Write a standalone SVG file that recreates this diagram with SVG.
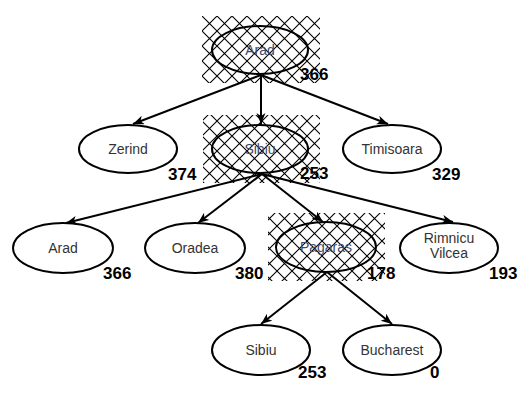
<svg xmlns="http://www.w3.org/2000/svg" width="530" height="401" viewBox="0 0 530 401">
<style>
.node{fill:none;stroke:#000;stroke-width:2}
.lbl{font-family:"Liberation Sans",Arial,sans-serif;font-size:14px;fill:#333;text-anchor:middle}
.lblh{fill:#3d4a6b}
.h{font-family:"Liberation Sans",Arial,sans-serif;font-size:17px;font-weight:bold;fill:#000}
.edge{stroke:#000;stroke-width:2;fill:none;marker-end:url(#arr)}
</style>
<defs>
<pattern id="hatch" patternUnits="userSpaceOnUse" width="15" height="15" x="202" y="16">
<path d="M0,0 L15,15 M15,0 L0,15" stroke="#000" stroke-width="1.1"/>
</pattern>
<marker id="arr" markerUnits="userSpaceOnUse" markerWidth="12" markerHeight="10" refX="11" refY="4.5" orient="auto">
<path d="M0,0 L11,4.5 L0,9 L3,4.5 z" fill="#000"/>
</marker>
</defs>
<g id="connectors">
<line class="edge" x1="261" y1="75" x2="133" y2="124"/>
<line class="edge" x1="261" y1="75" x2="261" y2="124"/>
<line class="edge" x1="261" y1="75" x2="388" y2="124"/>
<line class="edge" x1="262" y1="174" x2="66" y2="223"/>
<line class="edge" x1="262" y1="174" x2="198" y2="223"/>
<line class="edge" x1="262" y1="174" x2="323" y2="222"/>
<line class="edge" x1="262" y1="174" x2="453" y2="222"/>
<line class="edge" x1="327" y1="272" x2="261" y2="324"/>
<line class="edge" x1="327" y1="272" x2="392" y2="324"/>
</g>
<g id="n_arad">
<rect x="202" y="16" width="118" height="67" fill="url(#hatch)"/>
<ellipse class="node" cx="260" cy="50" rx="48" ry="24"/>
<text class="lbl lblh" x="260" y="55">Arad</text>
<text class="h" x="300" y="80">366</text>
</g>
<g id="n_zerind">
<ellipse class="node" cx="128" cy="149" rx="49" ry="24"/>
<text class="lbl" x="128" y="154">Zerind</text>
<text class="h" x="168" y="180">374</text>
</g>
<g id="n_sibiu">
<rect x="203" y="115" width="117" height="68" fill="url(#hatch)"/>
<ellipse class="node" cx="260" cy="149" rx="48" ry="24"/>
<text class="lbl lblh" x="260" y="154">Sibiu</text>
<text class="h" x="300" y="179">253</text>
</g>
<g id="n_timisoara">
<ellipse class="node" cx="392" cy="149" rx="49" ry="24"/>
<text class="lbl" x="392" y="154">Timisoara</text>
<text class="h" x="432" y="180">329</text>
</g>
<g id="n_arad2">
<ellipse class="node" cx="63" cy="248" rx="50" ry="25"/>
<text class="lbl" x="63" y="253">Arad</text>
<text class="h" x="103" y="279">366</text>
</g>
<g id="n_oradea">
<ellipse class="node" cx="195" cy="248" rx="50" ry="25"/>
<text class="lbl" x="195" y="253">Oradea</text>
<text class="h" x="235" y="279">380</text>
</g>
<g id="n_pagaras">
<rect x="268" y="213" width="117" height="68" fill="url(#hatch)"/>
<ellipse class="node" cx="326" cy="247" rx="50" ry="25"/>
<text class="lbl lblh" x="326" y="252">Pagaras</text>
<text class="h" x="367" y="279">178</text>
</g>
<g id="n_rimnicu">
<ellipse class="node" cx="449" cy="248" rx="49" ry="25"/>
<text class="lbl" x="449" y="243">Rimnicu</text>
<text class="lbl" x="449" y="258">Vilcea</text>
<text class="h" x="489" y="279">193</text>
</g>
<g id="n_sibiu2">
<ellipse class="node" cx="261" cy="350" rx="49" ry="25"/>
<text class="lbl" x="261" y="355">Sibiu</text>
<text class="h" x="298" y="378">253</text>
</g>
<g id="n_bucharest">
<ellipse class="node" cx="392" cy="350" rx="49" ry="25"/>
<text class="lbl" x="392" y="355">Bucharest</text>
<text class="h" x="430" y="378">0</text>
</g>
</svg>
